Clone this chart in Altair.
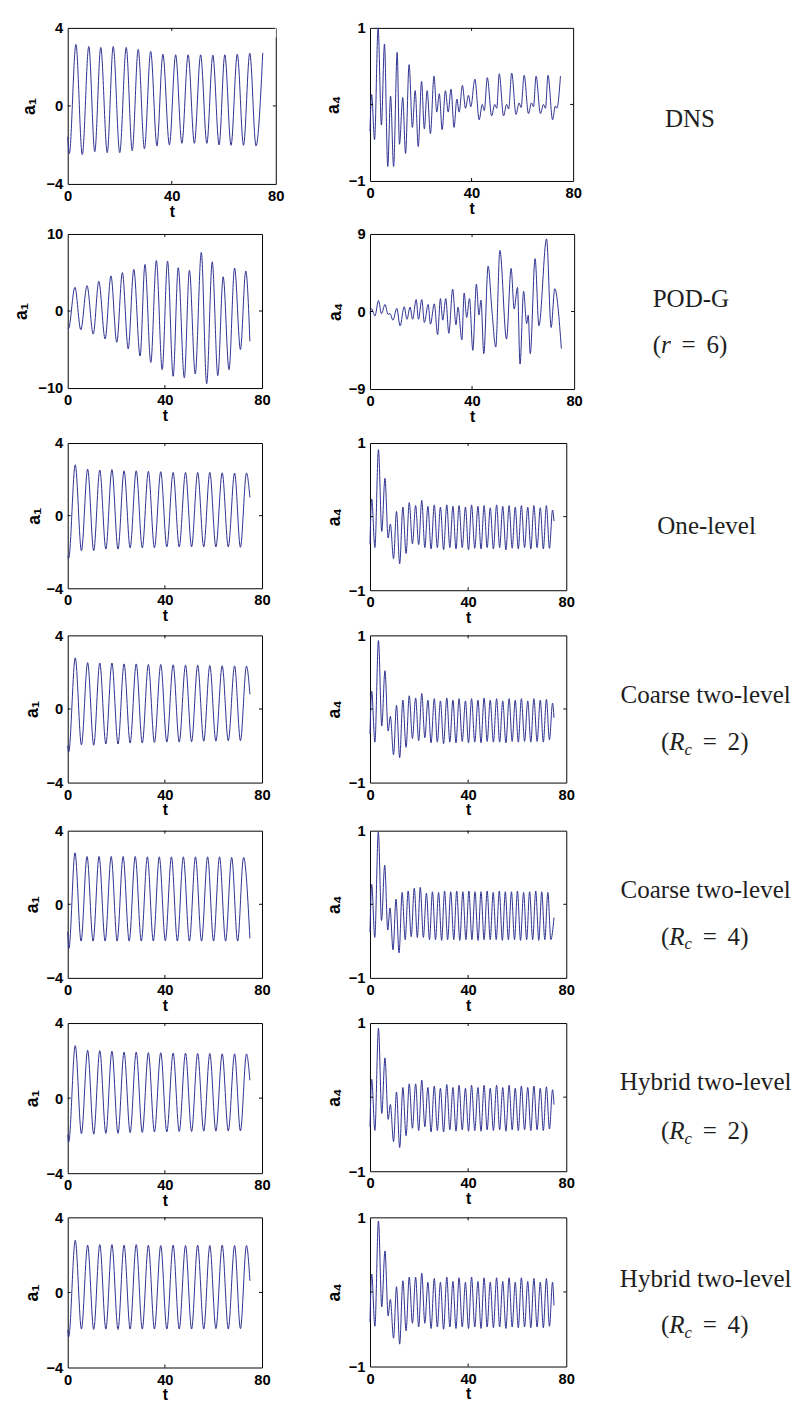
import altair as alt
import pandas as pd

# ---------------- data (extrema of each trace) ----------------
# DNS
T_DNS_A1 = [0, 0.6, 3.15, 5.6, 8.1, 10.4, 12.7, 15.2, 17.5, 20.0, 22.5, 24.8, 27.1, 29.5, 31.9, 34.3,
            36.6, 39.1, 41.5, 43.9, 46.3, 48.7, 51.1, 53.5, 55.8, 58.2, 60.4, 62.8, 65.2, 67.6, 70.0, 72.4, 75.0]
V_DNS_A1 = [-1.6, -2.45, 3.15, -2.5, 3.05, -2.35, 3.0, -2.4, 3.05, -2.4, 3.0, -2.3, 2.9, -2.2, 2.8, -2.05,
            2.65, -2.0, 2.62, -1.92, 2.62, -1.92, 2.62, -1.92, 2.6, -2.0, 2.62, -2.02, 2.65, -2.02, 2.7, -2.05, 2.72]
T_DNS_A4 = [0, 0.65, 1.8, 3.2, 4.5, 5.7, 7.0, 8.1, 9.3, 10.7, 11.6, 12.9, 14.0, 15.4, 16.7, 17.8, 19.0, 20.3,
            21.4, 22.5, 23.8, 25.2, 26.3, 27.3, 28.4, 29.7, 30.8, 31.9, 33.1, 34.2, 35.1, 36.4, 37.6, 38.8,
            39.7, 41.3, 43.0, 44.2, 45.0, 46.2, 47.9, 49.1, 49.9, 50.9, 52.6, 53.8, 54.6, 55.8, 57.5, 58.7,
            59.5, 60.7, 62.4, 63.6, 64.4, 65.4, 67.1, 68.3, 69.1, 70.1, 71.9, 73.0, 73.6, 75.0]
V_DNS_A4 = [-0.35, 0.13, -0.46, 1.0, -0.27, 0.79, -0.81, 0.11, -0.81, 0.68, -0.52, 0.09, -0.64, 0.52, -0.3,
            0.18, -0.55, 0.3, -0.32, 0.18, -0.38, 0.37, -0.1, 0.14, -0.33, 0.18, -0.1, 0.2, -0.3, 0.07, -0.1,
            0.25, -0.05, 0.12, -0.03, 0.33, -0.2, 0.0, -0.08, 0.35, -0.15, 0.0, -0.05, 0.4, -0.15, 0.0, -0.06,
            0.41, -0.13, 0.02, -0.04, 0.38, -0.12, 0.02, -0.03, 0.37, -0.12, 0.0, -0.05, 0.38, -0.2, -0.02,
            -0.05, 0.37]

# POD-G (r = 6)
T_PODG_A1 = [0, 0.3, 2.96, 5.39, 7.95, 10.5, 12.8, 15.4, 17.8, 20.2, 22.5, 24.9, 27.2, 29.8, 31.8, 34.2,
             36.5, 38.9, 41.1, 43.4, 45.5, 48.0, 50.1, 52.5, 55.0, 57.2, 59.5, 61.8, 64.0, 66.4, 68.7, 71.1,
             73.3, 75.0]
V_PODG_A1 = [-2.2, -2.3, 3.08, -2.44, 3.29, -3.0, 3.84, -3.63, 4.56, -4.06, 4.99, -4.9, 5.41, -5.84, 6.05,
             -6.69, 6.56, -7.62, 6.48, -8.47, 5.63, -8.68, 5.29, -8.17, 7.62, -9.45, 6.39, -8.39, 4.44, -7.62,
             5.58, -4.99, 5.2, -3.93]
T_PODG_A4 = [0, 0.64, 1.93, 3.34, 4.5, 5.9, 7.07, 7.84, 9.0, 10.5, 11.8, 13.4, 14.5, 15.7, 16.7, 18.1, 19.0,
             20.3, 21.3, 22.8, 23.7, 25.2, 26.5, 27.6, 28.5, 29.7, 30.9, 32.4, 33.7, 34.5, 36.0, 36.9, 37.9,
             39.0, 40.3, 41.7, 42.7, 43.5, 44.6, 46.3, 47.8, 49.3, 50.9, 53.5, 55.3, 56.5, 57.8, 58.8, 60.2,
             61.4, 62.0, 62.8, 64.7, 66.2, 69.2, 71.0, 72.4, 75.0]
V_PODG_A4 = [-0.25, 0.32, -0.51, 1.27, -0.25, 0.82, -0.32, -0.25, -1.0, 0.36, -1.65, 0.55, -0.9, 0.51, -0.9,
             1.39, -0.9, 1.39, -1.27, 0.82, -1.46, 0.89, -2.68, 1.5, -1.0, 1.5, -2.53, 2.6, -1.54, 0.51, -3.29,
             2.15, -0.7, 1.5, -4.51, 3.18, -0.4, 1.31, -4.89, 5.27, 0.06, -4.13, 7.1, -3.2, 5.0, 0.3, 2.8,
             -6.1, 2.34, -1.4, -0.44, -4.9, 6.14, -1.65, 8.43, -1.85, 2.64, -4.3]

# reduced models: time of extrema (one-level, coarse Rc=2, hybrid Rc=2/4 share these)
T_MODEL_A1 = [0, 0.4, 3.1, 5.65, 8.2, 10.7, 13.2, 15.7, 18.2, 20.7, 23.2, 25.7, 28.2, 30.7, 33.2, 35.7,
              38.3, 40.8, 43.4, 45.9, 48.5, 51.0, 53.5, 56.0, 58.5, 61.0, 63.6, 66.1, 68.7, 71.1, 73.6, 75.0]
V_ONE_A1 = [-2.25, -2.35, 2.8, -1.93, 2.56, -1.93, 2.51, -1.84, 2.54, -1.84, 2.47, -1.77, 2.47, -1.77, 2.44,
            -1.77, 2.42, -1.72, 2.38, -1.72, 2.38, -1.72, 2.38, -1.72, 2.38, -1.72, 2.36, -1.72, 2.35, -1.74,
            2.35, 1.0]
V_C2_A1 = [-2.0, -2.35, 2.78, -1.95, 2.52, -1.97, 2.5, -1.9, 2.5, -1.9, 2.45, -1.85, 2.45, -1.85, 2.42, -1.82,
           2.42, -1.8, 2.4, -1.8, 2.38, -1.78, 2.38, -1.75, 2.36, -1.75, 2.35, -1.73, 2.34, -1.72, 2.33, 0.8]
V_H2_A1 = [-1.95, -2.34, 2.8, -1.9, 2.55, -1.92, 2.53, -1.88, 2.5, -1.88, 2.45, -1.84, 2.45, -1.83, 2.42,
           -1.8, 2.42, -1.8, 2.4, -1.78, 2.4, -1.78, 2.38, -1.76, 2.38, -1.76, 2.36, -1.75, 2.36, -1.75, 2.35,
           0.95]
V_H4_A1 = [-2.0, -2.37, 2.78, -1.95, 2.52, -1.97, 2.55, -1.95, 2.55, -1.97, 2.52, -1.95, 2.55, -1.95, 2.52,
           -1.95, 2.5, -1.95, 2.52, -1.95, 2.5, -1.95, 2.52, -1.95, 2.5, -1.93, 2.52, -1.95, 2.5, -1.93, 2.5,
           0.62]
T_C4_A1 = [0, 0.5, 3.0, 5.5, 7.95, 10.45, 12.9, 15.4, 17.9, 20.35, 22.8, 25.3, 27.8, 30.3, 32.8, 35.25, 37.7,
           40.2, 42.7, 45.15, 47.6, 50.1, 52.6, 55.1, 57.6, 60.05, 62.5, 65.0, 67.5, 69.95, 72.4, 75.0]
V_C4_A1 = [-1.5, -2.4, 2.8, -2.0, 2.6, -2.0, 2.6, -2.0, 2.6, -2.0, 2.6, -2.0, 2.6, -2.0, 2.58, -2.0, 2.58,
           -1.98, 2.58, -2.0, 2.58, -2.0, 2.58, -2.0, 2.58, -2.0, 2.58, -2.0, 2.55, -2.0, 2.55, -1.85]

T_MODEL_A4 = [0, 0.7, 2.0, 3.45, 4.8, 6.1, 7.4, 8.3, 9.6, 10.8, 12.1, 13.4, 14.7, 16.0, 17.3, 18.6, 19.85,
              21.1, 22.35, 23.6, 24.9, 26.2, 27.45, 28.7, 30.0, 31.3, 32.55, 33.8, 35.05, 36.3, 37.6, 38.9,
              40.15, 41.4, 42.7, 44.0, 45.25, 46.5, 47.75, 49.0, 50.3, 51.6, 52.85, 54.1, 55.4, 56.7, 57.95,
              59.2, 60.45, 61.7, 63.0, 64.3, 65.55, 66.8, 68.1, 69.4, 70.65, 71.9, 73.15, 74.4, 75.0]
V_ONE_A4 = [-0.37, 0.24, -0.42, 0.91, -0.2, 0.52, -0.29, -0.1, -0.57, 0.07, -0.64, 0.13, -0.5, 0.19, -0.37,
            0.15, -0.38, 0.22, -0.42, 0.14, -0.44, 0.16, -0.42, 0.13, -0.45, 0.16, -0.42, 0.14, -0.44, 0.15,
            -0.42, 0.13, -0.45, 0.16, -0.43, 0.14, -0.44, 0.15, -0.42, 0.12, -0.44, 0.16, -0.42, 0.14, -0.45,
            0.15, -0.43, 0.13, -0.44, 0.15, -0.42, 0.13, -0.44, 0.15, -0.42, 0.12, -0.44, 0.15, -0.43, 0.09,
            -0.06]
V_C2_A4 = [-0.34, 0.24, -0.45, 0.93, -0.23, 0.52, -0.3, -0.1, -0.62, 0.05, -0.66, 0.12, -0.52, 0.18, -0.4,
           0.15, -0.43, 0.21, -0.39, 0.12, -0.46, 0.14, -0.45, 0.11, -0.47, 0.15, -0.45, 0.12, -0.46, 0.14,
           -0.44, 0.11, -0.46, 0.14, -0.45, 0.12, -0.46, 0.15, -0.44, 0.12, -0.45, 0.14, -0.45, 0.11, -0.46,
           0.14, -0.44, 0.12, -0.45, 0.14, -0.44, 0.11, -0.45, 0.14, -0.44, 0.12, -0.45, 0.13, -0.42, 0.08,
           -0.12]
V_H2_A4 = [-0.4, 0.24, -0.45, 0.93, -0.22, 0.53, -0.3, -0.1, -0.6, 0.07, -0.68, 0.13, -0.52, 0.18, -0.42,
           0.18, -0.45, 0.23, -0.4, 0.13, -0.47, 0.15, -0.45, 0.12, -0.47, 0.17, -0.44, 0.13, -0.46, 0.16,
           -0.44, 0.12, -0.46, 0.16, -0.45, 0.13, -0.46, 0.16, -0.44, 0.12, -0.45, 0.16, -0.44, 0.13, -0.46,
           0.16, -0.44, 0.12, -0.45, 0.15, -0.44, 0.13, -0.45, 0.15, -0.44, 0.12, -0.45, 0.14, -0.43, 0.1,
           -0.1]
V_H4_A4 = [-0.4, 0.24, -0.46, 0.95, -0.2, 0.55, -0.32, -0.1, -0.62, 0.07, -0.7, 0.15, -0.52, 0.2, -0.42,
           0.2, -0.47, 0.25, -0.42, 0.13, -0.49, 0.18, -0.47, 0.13, -0.5, 0.2, -0.47, 0.14, -0.49, 0.19,
           -0.47, 0.13, -0.49, 0.2, -0.47, 0.14, -0.49, 0.19, -0.47, 0.13, -0.48, 0.19, -0.47, 0.14, -0.49,
           0.19, -0.47, 0.13, -0.48, 0.19, -0.47, 0.14, -0.48, 0.18, -0.47, 0.13, -0.48, 0.18, -0.46, 0.13,
           -0.18]
T_C4_A4 = [0, 0.7, 1.95, 3.4, 4.7, 6.0, 7.25, 8.15, 9.4, 10.6, 11.85, 13.1, 14.35, 15.55, 16.8, 18.05, 19.3,
           20.5, 21.75, 23.0, 24.25, 25.45, 26.7, 27.95, 29.2, 30.4, 31.65, 32.9, 34.15, 35.35, 36.6, 37.85,
           39.1, 40.3, 41.55, 42.8, 44.05, 45.25, 46.5, 47.75, 49.0, 50.2, 51.45, 52.7, 53.95, 55.15, 56.4,
           57.65, 58.9, 60.1, 61.35, 62.6, 63.85, 65.05, 66.3, 67.55, 68.8, 70.0, 71.25, 72.5, 73.7, 75.0]
V_C4_A4 = [-0.38, 0.27, -0.45, 0.98, -0.22, 0.53, -0.35, -0.05, -0.62, 0.07, -0.66, 0.16, -0.48, 0.18, -0.44,
           0.22, -0.45, 0.23, -0.45, 0.15, -0.48, 0.17, -0.48, 0.16, -0.49, 0.18, -0.48, 0.17, -0.48, 0.18,
           -0.49, 0.17, -0.48, 0.18, -0.48, 0.17, -0.49, 0.17, -0.48, 0.18, -0.48, 0.16, -0.48, 0.18, -0.49,
           0.17, -0.48, 0.17, -0.48, 0.18, -0.49, 0.16, -0.48, 0.17, -0.48, 0.18, -0.49, 0.17, -0.48, 0.16,
           -0.48, -0.18]

X_TICKS = [0, 40, 80]

# ---------------- styling ----------------
LINE_COLOR = "#2b2f8f"
SANS = "Liberation Sans, Arial, DejaVu Sans"
SERIF = "Liberation Serif, DejaVu Serif"
TXT_COLOR = "#1e1e1e"
FS = 25.5


def txt(s, x, y, size=FS, style="normal", align="left"):
    return alt.Chart(pd.DataFrame({"s": [s]})).mark_text(
        font=SERIF, fontSize=size, fontStyle=style, align=align, baseline="alphabetic", color=TXT_COLOR
    ).encode(x=alt.value(x), y=alt.value(y), text="s:N")


def rc_label(cx, y, n):
    s = cx - 44.6
    return [txt("(", s, y), txt("R", s + 8.5, y, style="italic"),
            txt("c", s + 24.1, y + 5, size=17, style="italic"),
            txt("=", s + 42.6, y), txt(f"{n})", s + 68.0, y)]


def r_label(cx, y, n):
    s = cx - 38
    return [txt("(", s, y), txt("r", s + 8.5, y, style="italic"),
            txt("=", s + 29.4, y), txt(f"{n})", s + 54.8, y)]


def panel(ts, vs, ylim, ytitle, w, h, tp, extra=()):
    n = min(len(ts), len(vs))
    df = pd.DataFrame({"t": ts[:n], "v": vs[:n]})
    xsc = alt.Scale(domain=[0, 80], nice=False, zero=False)
    ysc = alt.Scale(domain=[-ylim, ylim], nice=False, zero=False)
    xax = alt.Axis(values=X_TICKS, title="t", format="d", titlePadding=0, titleFontSize=16)
    yax = alt.Axis(values=[-ylim, 0, ylim], title=ytitle, format="d", titlePadding=tp, titleFontSize=18)
    line = alt.Chart(df).mark_line(color=LINE_COLOR, strokeWidth=1.0, interpolate="monotone").encode(
        x=alt.X("t:Q", scale=xsc, axis=xax),
        y=alt.Y("v:Q", scale=ysc, axis=yax),
    )
    xt = pd.DataFrame({"t": [40]})
    yt = pd.DataFrame({"v": [0]})
    xe = alt.X("t:Q", scale=xsc, axis=xax)
    ye = alt.Y("v:Q", scale=ysc, axis=yax)
    ticks = [
        alt.Chart(xt).mark_rule(color="black").encode(x=xe, y=alt.value(h), y2=alt.value(h - 3)),
        alt.Chart(xt).mark_rule(color="black").encode(x=xe, y=alt.value(0), y2=alt.value(3)),
        alt.Chart(yt).mark_rule(color="black").encode(y=ye, x=alt.value(0), x2=alt.value(3)),
        alt.Chart(yt).mark_rule(color="black").encode(y=ye, x=alt.value(w - 3), x2=alt.value(w)),
    ]
    return alt.layer(line, *ticks, *extra).properties(width=w, height=h)


def spacer(w, h, top_ext=0):
    return alt.Chart(pd.DataFrame({"a": [0]})).mark_rule(color="white", strokeWidth=1).encode(
        x=alt.value(0), y=alt.value(-top_ext), y2=alt.value(h)
    ).properties(width=w, height=h, view=alt.ViewBackground(stroke="transparent"))


A1 = "a\u2081"
A4 = "a\u2084"

rows_spec = [
    # (lead, slot_h, top_ext, gap, (T1,V1,lim1,w1,h1,tp1), (T4,V4,lim4,w4,h4,tp4), labels)
    (54, 165, 14, 93, (T_DNS_A1, V_DNS_A1, 4, 212, 159, 8), (T_DNS_A4, V_DNS_A4, 1, 207, 156, 6),
     [txt("DNS", 326, 101, align="center")]),
    (68, 168, 0, 92, (T_PODG_A1, V_PODG_A1, 10, 198, 157, 8), (T_PODG_A4, V_PODG_A4, 9, 208, 158, 4),
     [txt("POD-G", 327, 74, align="center")] + r_label(326, 121, 6)),
    (65, 151, 0, 96, (T_MODEL_A1, V_ONE_A1, 4, 198, 148, 3), (T_MODEL_A4, V_ONE_A4, 1, 200, 150, 5),
     [txt("One-level", 343, 93, align="center")]),
    (65, 154, 0, 96, (T_MODEL_A1, V_C2_A1, 4, 198, 150, 5), (T_MODEL_A4, V_C2_A4, 1, 200, 150, 5),
     [txt("Coarse two-level", 342, 69, align="center")] + rc_label(341, 117, 2)),
    (65, 151, 0, 96, (T_C4_A1, V_C4_A1, 4, 198, 150, 5), (T_C4_A4, V_C4_A4, 1, 200, 150, 5),
     [txt("Coarse two-level", 342, 69, align="center")] + rc_label(341, 116, 4)),
    (65, 153, 0, 96, (T_MODEL_A1, V_H2_A1, 4, 198, 153, 5), (T_MODEL_A4, V_H2_A4, 1, 200, 151, 5),
     [txt("Hybrid two-level", 342, 68, align="center")] + rc_label(341, 118, 2)),
    (65, 153, 0, 96, (T_MODEL_A1, V_H4_A1, 4, 198, 153, 5), (T_MODEL_A4, V_H4_A4, 1, 200, 152, 5),
     [txt("Hybrid two-level", 342, 71, align="center")] + rc_label(341, 118, 4)),
]

cells = []
for lead, slot_h, top_ext, gap, p1, p4, labels in rows_spec:
    T1, V1, l1, w1, h1, tp1 = p1
    T4, V4, l4, w4, h4, tp4 = p4
    cells.append(spacer(lead, slot_h, top_ext))
    cells.append(panel(T1, V1, l1, A1, w1, h1, tp1))
    cells.append(spacer(gap, 10))
    cells.append(panel(T4, V4, l4, A4, w4, h4, tp4, extra=labels))

chart = alt.concat(
    *cells, columns=4, bounds="flush",
    align=alt.RowColLayoutAlign(row="each", column="none"),
    spacing=alt.RowColnumber(row=45, column=0),
).properties(
    padding={"left": 0, "top": 0, "right": 0, "bottom": 0}, background="white"
).configure_view(stroke="black", strokeWidth=1).configure_axis(
    labelFont=SANS, labelFontSize=15, labelFontWeight="bold", labelColor="black",
    titleFont=SANS, titleFontSize=16, titleFontWeight="bold", titleColor="black",
    ticks=False, domain=False, grid=False, labelFlush=False, labelPadding=5, labelOverlap=False
)

chart.save("out.html", embed_options={"renderer": "svg", "actions": False})
